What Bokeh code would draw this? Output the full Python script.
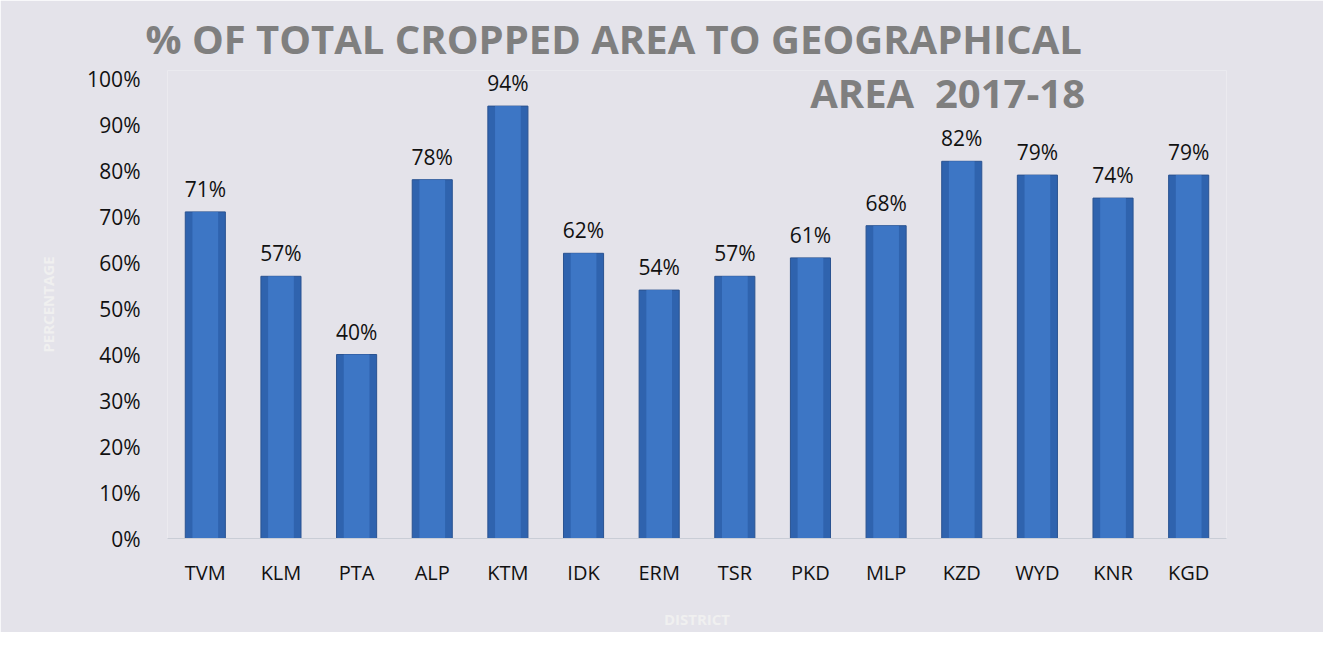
from bokeh.plotting import figure
from bokeh.models import (ColumnDataSource, Range1d, FixedTicker, PrintfTickFormatter,
                          LabelSet, Label)
from bokeh.core.properties import value
from bokeh.embed import file_html
from bokeh.resources import INLINE

# ---- data ----
districts = ["TVM", "KLM", "PTA", "ALP", "KTM", "IDK", "ERM", "TSR", "PKD", "MLP",
             "KZD", "WYD", "KNR", "KGD"]
percent = [71, 57, 40, 78, 94, 62, 54, 57, 61, 68, 82, 79, 74, 79]
y_ticks = [0, 10, 20, 30, 40, 50, 60, 70, 80, 90, 100]
title_line1 = "% OF TOTAL CROPPED AREA TO GEOGRAPHICAL"
title_line2 = "AREA\u00a0 2017-18"
x_title = "DISTRICT"
y_title = "PERCENTAGE"

BG = "#e4e3ea"
FONT = "Open Sans"

xs = list(range(len(districts)))
src = ColumnDataSource(dict(x=xs, top=percent,
                            lbl=[f"{v}%" for v in percent]))

p = figure(width=1323, height=632, output_backend="svg", toolbar_location=None,
           title=title_line1,
           x_range=Range1d(-0.5, len(districts) - 0.5), y_range=Range1d(0, 101.74),
           min_border_left=167, min_border_right=97, min_border_top=70,
           min_border_bottom=94)
p.background_fill_color = BG
p.border_fill_color = BG
p.outline_line_color = None
p.grid.grid_line_color = None

# title line 1 (above the frame)
p.title.align = "left"
p.title.offset = -22
p.title.text_font = FONT
p.title.text_font_style = "bold"
p.title.text_font_size = "40px"
p.title.text_color = "#7f7f7f"
p.title.standoff = 10

# bars
p.vbar(x="x", top="top", bottom=0, width=0.53, source=src,
       fill_color="#2f63ae", line_color="#2a5391", line_width=1)
p.vbar(x="x", top="top", bottom=0, width=0.34, source=src,
       fill_color="#4079c9", line_color=None, fill_alpha=0.85)

# data labels
p.add_layout(LabelSet(x="x", y="top", text="lbl", source=src, y_offset=9,
                      text_align="center", text_baseline="bottom",
                      text_font=value(FONT), text_font_size=value("21px"),
                      text_color="#111111"))

# axes
p.xaxis.ticker = FixedTicker(ticks=xs)
p.xaxis.major_label_overrides = {i: d for i, d in enumerate(districts)}
p.xaxis.major_label_text_font = FONT
p.xaxis.major_label_text_font_size = "20px"
p.xaxis.major_label_text_color = "#111111"
p.xaxis.major_label_standoff = 14
p.xaxis.major_tick_line_color = None
p.xaxis.minor_tick_line_color = None
p.xaxis.axis_line_color = "#c9cdd6"
p.xaxis.axis_label = x_title
p.xaxis.axis_label_text_font = FONT
p.xaxis.axis_label_text_font_style = "bold"
p.xaxis.axis_label_text_font_size = "15px"
p.xaxis.axis_label_text_color = "#f0f0f0"
p.xaxis.axis_label_standoff = 20

p.yaxis.ticker = FixedTicker(ticks=y_ticks)
p.yaxis.formatter = PrintfTickFormatter(format="%d%%")
p.yaxis.major_label_text_font = FONT
p.yaxis.major_label_text_font_size = "21px"
p.yaxis.major_label_text_color = "#111111"
p.yaxis.major_label_standoff = 21
p.yaxis.major_tick_line_color = None
p.yaxis.minor_tick_line_color = None
p.yaxis.axis_line_color = None
p.yaxis.axis_label = y_title
p.yaxis.axis_label_text_font = FONT
p.yaxis.axis_label_text_font_style = "bold"
p.yaxis.axis_label_text_font_size = "15px"
p.yaxis.axis_label_text_color = "#f0f0f0"
p.yaxis.axis_label_standoff = 26

# title line 2 (inside the frame, right side)
p.add_layout(Label(x=11.63, y=97.0, text=title_line2, text_align="right",
                   text_baseline="middle", text_font=FONT, text_font_style="bold",
                   text_font_size="40px", text_color="#7f7f7f"))

open("out.html", "w").write(file_html(p, INLINE))
